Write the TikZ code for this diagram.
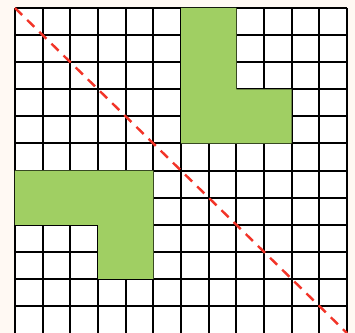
\documentclass[tikz,border=0pt]{standalone}
\usepackage{xcolor}
\usepackage{tikz}
\definecolor{cream}{RGB}{255,249,243}
\definecolor{leafgreen}{RGB}{160,207,99}
\definecolor{dashred}{RGB}{242,52,40}
\begin{document}
\begin{tikzpicture}[x=27.67pt, y=-27.1pt,
    gridline/.style={black, line width=2pt},
    region/.style={fill=leafgreen, draw=none},
    diag/.style={dashred, line width=2.4pt, dash pattern=on 10pt off 7pt}
]
\fill[cream] (-0.542,-0.295) rectangle (12.288,11.993);
\useasboundingbox (-0.542,-0.295) rectangle (12.288,11.993);
\fill[white] (0,0) rectangle (12,12);

% grid
\foreach \i in {0,...,12} \draw[gridline] (\i,0) -- (\i,12);
\foreach \j in {0,...,11} \draw[gridline] (0,\j) -- (12,\j);

% green shapes
\fill[region] (6,0) -- (8,0) -- (8,3) -- (10,3) -- (10,5) -- (6,5) -- cycle;
\fill[region] (0,6) -- (5,6) -- (5,10) -- (3,10) -- (3,8) -- (0,8) -- cycle;

% diagonal
\coordinate (topleft) at (0,0);
\coordinate (botright) at (12,12);
\draw[diag] (topleft) -- (botright);
\end{tikzpicture}
\end{document}
